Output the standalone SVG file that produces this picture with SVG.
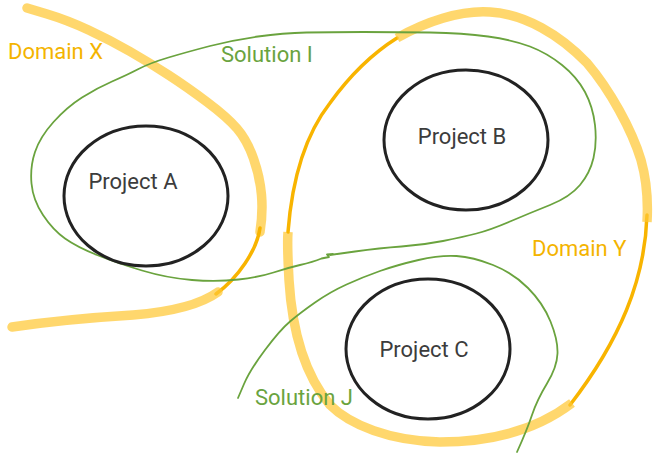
<svg xmlns="http://www.w3.org/2000/svg" width="659" height="453" viewBox="0 0 659 453">
<style>
.hl{fill:none;stroke:#FFC835;stroke-opacity:0.72;stroke-width:9.5;stroke-linecap:butt;stroke-linejoin:round}
.th{fill:none;stroke:#F8B400;stroke-width:3.5;stroke-linecap:round}
.sol{fill:none;stroke:#6AA33E;stroke-width:1.8;stroke-linecap:round;stroke-linejoin:round}
.proj{fill:none;stroke:#222222;stroke-width:3}
.pt{font-family:Roboto,"Liberation Sans",sans-serif;font-size:22px;fill:#3C3C3C;text-anchor:middle}
.yl{font-family:Roboto,"Liberation Sans",sans-serif;font-size:22px;fill:#F4B400}
.gl{font-family:Roboto,"Liberation Sans",sans-serif;font-size:22px;fill:#6AA33E}
</style>
<rect width="659" height="453" fill="#FFFFFF"/>
<g id="domain-x">
<path class="hl" style="stroke-linecap:round" d="M27,8 L47,14 Q67,20 88.5,30 Q110,40 130,51.5 Q150,63 168.5,75 Q187,87 207,102 Q227,117 237,128.5 Q247,140 253.5,158.5 Q260,177 261.5,195 Q263,213 260,232"/>
<path class="th" d="M260,228 C257,250 238,278 216,294"/>
<path class="hl" style="stroke-linecap:round" d="M218,292 C200,305 170,312 133,315 C100,317 60,320 12,327"/>
<text class="yl" x="8" y="59">Domain X</text>
</g>
<g id="domain-y">
<path class="th" d="M647,215 C645,280 620,340 570,405"/>
<path class="hl" d="M572,403 C530,435 480,442 440,442 C390,441 350,425 330,405 C305,375 292,330 289,280 C288,260 287,245 288,232"/>
<path class="th" d="M288,232 C292,180 305,135 330,103 C348,78 370,55 397,38"/>
<path class="hl" d="M397,38 C425,22 460,10 490,12 C525,14 560,35 587,63 C610,90 632,130 641,160 C648,185 648,205 647,222"/>
<text class="yl" x="532" y="256">Domain Y</text>
</g>
<g id="solution-i">
<path class="sol" d="M330,255 L355,251.5 Q380,248 401.5,246.5 Q423,245 443,241 Q463,237 476.5,233.5 Q490,230 510,221.5 Q530,213 550,205 Q570,197 580,185 Q590,173 593.5,158 Q597,143 595,125 Q593,107 585,92 Q577,77 562,65 Q547,53 530,46.5 Q513,40 488,36.5 Q463,33 430,32.5 Q397,32 363.5,32 Q330,32 306.5,32.5 Q283,33 258,36.5 Q233,40 210,46 Q187,52 168.5,57.5 Q150,63 138.5,69 Q127,75 112,81.5 Q97,88 82,97.5 Q67,107 53.5,122 Q40,137 35,152 Q30,167 31.5,183.5 Q33,200 43,215 Q53,230 65,238.5 Q77,247 97,255 Q117,263 142,270.5 Q167,278 192,280 Q217,282 238.5,279.5 Q260,277 273.5,272.5 Q287,268 300,265 Q313,262 321.5,258.5 L329,257 L327,254.5 L333,254"/>
<text class="gl" x="221" y="62">Solution I</text>
</g>
<g id="solution-j">
<path class="sol" d="M238,398 L244,384 Q250,370 265,350 Q280,330 290,321.5 Q300,313 315,302.5 Q330,292 346.5,284.5 Q363,277 380,271 Q397,265 418.5,260 Q440,255 456.5,256 Q473,257 493,265 Q513,273 528,288 Q543,303 550.5,321.5 Q558,340 557.5,353.5 Q557,367 547,383.5 Q537,400 532,415 Q527,430 517,452"/>
<text class="gl" x="255" y="405">Solution J</text>
</g>
<g id="project-a">
<ellipse class="proj" cx="146" cy="196" rx="82" ry="70"/>
<text class="pt" x="133" y="189">Project A</text>
</g>
<g id="project-b">
<ellipse class="proj" cx="466" cy="140" rx="82" ry="70"/>
<text class="pt" x="462" y="144">Project B</text>
</g>
<g id="project-c">
<ellipse class="proj" cx="428" cy="349" rx="82" ry="70"/>
<text class="pt" x="424" y="357">Project C</text>
</g>
</svg>
